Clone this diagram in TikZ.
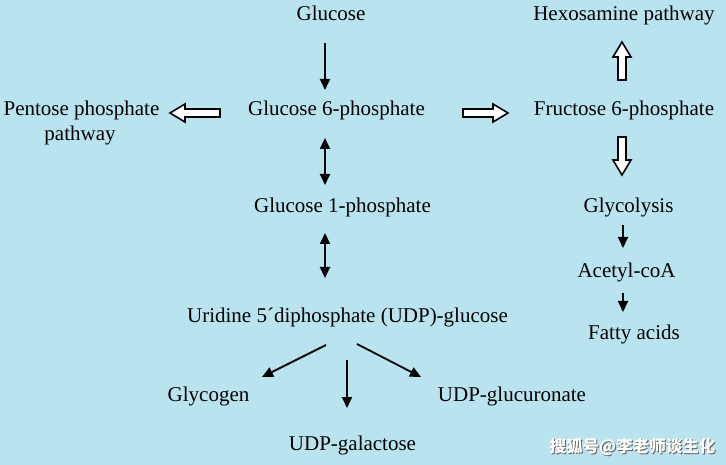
\documentclass[tikz,border=0pt]{standalone}
\usepackage{fontspec}
\setmainfont{Liberation Serif}
\newfontfamily\cjkfont{Noto Sans CJK SC}
\usetikzlibrary{arrows.meta,calc}
\definecolor{bgblue}{RGB}{185,227,239}
\newcommand\hollowarrow[2]{%
  \draw[hollow] let \p1=(#1), \p2=(#2),
    \n1={atan2(\y2-\y1,\x2-\x1)}, \n2={veclen(\x2-\x1,\y2-\y1)} in
    [shift={(\p1)}, rotate=\n1]
    (0pt,-4pt) -- ({\n2-15pt},-4pt) -- ({\n2-15pt},-9pt) -- ({\n2},0pt)
    -- ({\n2-15pt},9pt) -- ({\n2-15pt},4pt) -- (0pt,4pt) -- cycle;}
\begin{document}
\begin{tikzpicture}[x=1pt,y=-1pt,
  lbl/.style={inner sep=0pt, anchor=base, font=\fontsize{21}{25}\selectfont,
              text height=14pt, text depth=4pt},
  arr/.style={line width=1.8pt, -{Triangle[length=11pt,width=10pt]}},
  darr/.style={line width=1.8pt, {Triangle[length=11pt,width=10pt]}-{Triangle[length=11pt,width=10pt]}},
  hollow/.style={line width=1.6pt, fill=white, line join=miter},
  wm/.style={inner sep=0pt, anchor=base, font=\cjkfont\bfseries\fontsize{16.5}{18}\selectfont}
]
\fill[bgblue] (0,0) rectangle (726,465);
\useasboundingbox (0,0) rectangle (726,465);

% nodes
\node[lbl] (glc)  at (331,21)    {Glucose};
\node[lbl] (hex)  at (624,21)    {Hexosamine pathway};
\node[lbl] (ppp)  at (81.5,115.5){Pentose phosphate};
\node[lbl] (ppp2) at (80,140.5)  {pathway};
\node[lbl] (g6p)  at (336.5,115.5) {Glucose 6-phosphate};
\node[lbl] (f6p)  at (624,115.5) {Fructose 6-phosphate};
\node[lbl] (g1p)  at (342.5,212.5) {Glucose 1-phosphate};
\node[lbl] (gly)  at (628.5,212.5) {Glycolysis};
\node[lbl] (aca)  at (626.5,277.5) {Acetyl-coA};
\node[lbl] (fat)  at (634,339.5) {Fatty acids};
\node[lbl] (udp)  at (347.5,323) {Uridine 5´diphosphate (UDP)-glucose};
\node[lbl] (gcg)  at (208.5,401.5) {Glycogen};
\node[lbl] (gal)  at (352.5,450.5) {UDP-galactose};
\node[lbl] (glr)  at (512,401.5) {UDP-glucuronate};

% watermark
\node[wm, text=black!60] (wms) at (633.5,453.5) {搜狐号@李老师谈生化};
\node[wm, text=white] (wmk) at (632.5,452.5) {搜狐号@李老师谈生化};

% columns
\coordinate (cA) at (325,0);
\coordinate (cB) at (623,0);
\coordinate (cC) at (622,0);

% thin arrows
\draw[arr]  ($(glc.base -| cA)+(0,22)$) -- ($(g6p.base -| cA)+(0,-25.5)$);
\draw[darr] ($(g6p.base -| cA)+(0,22.5)$) -- ($(g1p.base -| cA)+(0,-27.5)$);
\draw[darr] ($(g1p.base -| cA)+(0,20.5)$) -- ($(udp.base -| cA)+(0,-45)$);
\draw[arr]  ($(udp.base)+(-21.5,22)$) -- ($(gcg.base)+(53.5,-24.5)$);
\draw[arr]  ($(udp.base)+(-0.5,37)$) -- ($(gal.base)+(-5.5,-42.5)$);
\draw[arr]  ($(udp.base)+(9.5,21)$) -- ($(glr.base)+(-91,-24.5)$);
\draw[arr]  ($(gly.base -| cB)+(0,12.5)$) -- ($(aca.base -| cB)+(0,-29.5)$);
\draw[arr]  ($(aca.base -| cB)+(0,15.5)$) -- ($(fat.base -| cB)+(0,-27.5)$);

% hollow block arrows
\coordinate (h1a) at ($(g6p.base)+(-116.5,-2.5)$);
\coordinate (h1b) at ($(ppp.base)+(88.5,-2.5)$);
\coordinate (h2a) at ($(g6p.base)+(126.5,-2.5)$);
\coordinate (h2b) at ($(f6p.base)+(-116,-2.5)$);
\coordinate (h3a) at ($(f6p.base -| cC)+(0,-35.5)$);
\coordinate (h3b) at ($(hex.base -| cC)+(0,21)$);
\coordinate (h4a) at ($(f6p.base -| cC)+(0,21.5)$);
\coordinate (h4b) at ($(gly.base -| cC)+(0,-37.5)$);
\hollowarrow{h1a}{h1b}
\hollowarrow{h2a}{h2b}
\hollowarrow{h3a}{h3b}
\hollowarrow{h4a}{h4b}
\end{tikzpicture}
\end{document}
